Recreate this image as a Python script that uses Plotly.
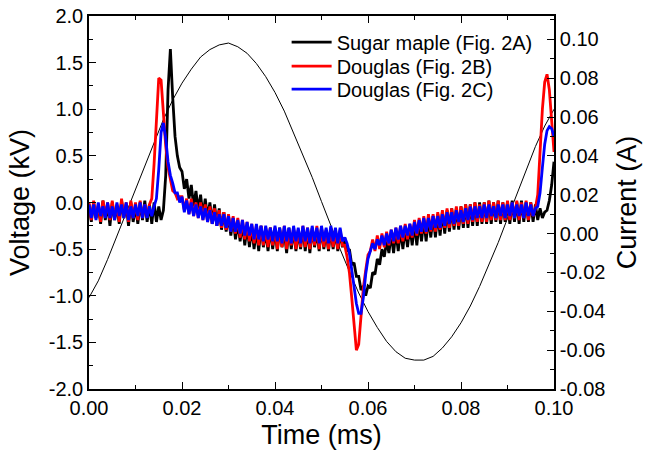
import numpy as np
import plotly.graph_objects as go

# time grids (ms)
t_cur = np.round(np.arange(201) * 0.0005, 4)
t_volt = np.round(np.arange(51) * 0.002, 3)

# applied voltage (kV), read every 0.002 ms
voltage_kv = [-1.02, -0.84, -0.61, -0.36, -0.10, 0.15, 0.41, 0.66, 0.89, 1.10,
              1.28, 1.43, 1.56, 1.64, 1.69, 1.71, 1.67, 1.60, 1.49, 1.35,
              1.18, 0.98, 0.75, 0.52, 0.27, 0.01, -0.25, -0.50, -0.74, -0.97,
              -1.17, -1.34, -1.49, -1.60, -1.67, -1.69, -1.69, -1.65, -1.56, -1.44,
              -1.29, -1.11, -0.90, -0.67, -0.43, -0.17, 0.09, 0.35, 0.60, 0.82,
              1.00]

# currents (A), read every 0.0005 ms
sugar_maple_2a = [
    0.015, 0.006, 0.016, 0.008, 0.014, 0.005, 0.017, 0.007, 0.015, 0.004,
    0.016, 0.007, 0.014, 0.005, 0.017, 0.008, 0.015, 0.004, 0.016, 0.006,
    0.014, 0.005, 0.016, 0.007, 0.017, 0.006, 0.015, 0.005, 0.016, 0.006,
    0.014, 0.007, 0.012, 0.030, 0.074, 0.095, 0.070, 0.050, 0.040, 0.034,
    0.032, 0.023, 0.028, 0.018, 0.025, 0.014, 0.022, 0.012, 0.020, 0.009,
    0.018, 0.008, 0.016, 0.005, 0.015, 0.004, 0.013, 0.002, 0.011, 0.001,
    0.009, -0.001, 0.008, -0.003, 0.006, -0.004, 0.005, -0.006, 0.004, -0.007,
    0.003, -0.008, 0.002, -0.009, 0.004, -0.007, 0.001, -0.009, 0.003, -0.008,
    0.002, -0.009, 0.003, -0.007, 0.001, -0.010, 0.003, -0.008, 0.002, -0.009,
    0.001, -0.008, 0.003, -0.009, 0.002, -0.010, 0.003, -0.007, 0.001, -0.009,
    0.003, -0.008, 0.001, -0.009, 0.002, -0.008, 0.001, -0.009, 0.001, -0.007,
    -0.002, -0.009, -0.008, -0.016, -0.015, -0.022, -0.022, -0.029, -0.027, -0.032,
    -0.027, -0.028, -0.020, -0.021, -0.013, -0.016, -0.008, -0.012, -0.004, -0.010,
    0.000, -0.010, 0.001, -0.009, 0.002, -0.008, 0.003, -0.007, 0.004, -0.006,
    0.005, -0.006, 0.006, -0.004, 0.007, -0.004, 0.008, -0.002, 0.009, -0.002,
    0.010, -0.001, 0.011, 0.000, 0.012, 0.001, 0.013, 0.002, 0.013, 0.002,
    0.014, 0.003, 0.015, 0.003, 0.015, 0.004, 0.016, 0.004, 0.016, 0.005,
    0.016, 0.005, 0.017, 0.005, 0.016, 0.006, 0.017, 0.005, 0.016, 0.006,
    0.016, 0.005, 0.017, 0.006, 0.016, 0.005, 0.017, 0.006, 0.016, 0.006,
    0.016, 0.006, 0.015, 0.007, 0.013, 0.008, 0.011, 0.012, 0.017, 0.025,
    0.037]

douglas_2b = [
    0.016, 0.007, 0.017, 0.008, 0.015, 0.006, 0.017, 0.009, 0.016, 0.007,
    0.017, 0.008, 0.015, 0.006, 0.018, 0.009, 0.016, 0.006, 0.017, 0.008,
    0.016, 0.007, 0.017, 0.008, 0.015, 0.009, 0.015, 0.018, 0.036, 0.058,
    0.080, 0.079, 0.062, 0.045, 0.034, 0.028, 0.022, 0.021, 0.018, 0.019,
    0.019, 0.012, 0.018, 0.010, 0.018, 0.009, 0.016, 0.008, 0.016, 0.007,
    0.015, 0.006, 0.014, 0.005, 0.013, 0.004, 0.012, 0.003, 0.011, 0.002,
    0.010, 0.001, 0.009, 0.000, 0.008, -0.002, 0.007, -0.003, 0.006, -0.004,
    0.005, -0.005, 0.004, -0.006, 0.004, -0.006, 0.003, -0.007, 0.003, -0.006,
    0.003, -0.008, 0.002, -0.007, 0.004, -0.008, 0.002, -0.006, 0.003, -0.008,
    0.002, -0.007, 0.004, -0.007, 0.003, -0.008, 0.002, -0.006, 0.004, -0.008,
    0.003, -0.007, 0.002, -0.008, 0.003, -0.007, 0.002, -0.008, 0.002, -0.006,
    -0.006, -0.012, -0.020, -0.033, -0.048, -0.060, -0.057, -0.042, -0.028, -0.019,
    -0.011, -0.009, -0.003, -0.009, -0.001, -0.008, 0.000, -0.007, 0.001, -0.006,
    0.002, -0.005, 0.003, -0.005, 0.004, -0.004, 0.005, -0.003, 0.005, -0.002,
    0.007, -0.001, 0.008, 0.000, 0.009, 0.000, 0.010, 0.001, 0.010, 0.001,
    0.011, 0.002, 0.012, 0.003, 0.013, 0.003, 0.013, 0.004, 0.014, 0.004,
    0.014, 0.005, 0.015, 0.005, 0.015, 0.006, 0.016, 0.006, 0.015, 0.006,
    0.016, 0.006, 0.017, 0.007, 0.016, 0.007, 0.017, 0.007, 0.016, 0.007,
    0.017, 0.007, 0.016, 0.008, 0.017, 0.007, 0.016, 0.008, 0.017, 0.007,
    0.016, 0.009, 0.013, 0.020, 0.042, 0.064, 0.078, 0.082, 0.074, 0.058,
    0.042]

douglas_2c = [
    0.015, 0.008, 0.015, 0.007, 0.016, 0.009, 0.014, 0.008, 0.016, 0.008,
    0.014, 0.007, 0.016, 0.009, 0.015, 0.008, 0.016, 0.007, 0.014, 0.008,
    0.015, 0.009, 0.016, 0.008, 0.015, 0.008, 0.014, 0.009, 0.014, 0.018,
    0.033, 0.052, 0.057, 0.049, 0.037, 0.030, 0.026, 0.021, 0.021, 0.016,
    0.019, 0.011, 0.017, 0.010, 0.016, 0.009, 0.015, 0.008, 0.014, 0.007,
    0.013, 0.006, 0.012, 0.005, 0.011, 0.004, 0.010, 0.004, 0.010, 0.003,
    0.009, 0.001, 0.008, 0.001, 0.007, 0.000, 0.007, -0.001, 0.006, -0.001,
    0.005, -0.003, 0.005, -0.003, 0.004, -0.004, 0.004, -0.003, 0.003, -0.004,
    0.004, -0.004, 0.003, -0.005, 0.004, -0.004, 0.003, -0.005, 0.004, -0.004,
    0.003, -0.005, 0.004, -0.004, 0.003, -0.005, 0.004, -0.004, 0.003, -0.005,
    0.004, -0.004, 0.003, -0.005, 0.004, -0.004, 0.003, -0.005, 0.003, -0.004,
    -0.002, -0.005, -0.010, -0.018, -0.027, -0.036, -0.041, -0.041, -0.033, -0.021,
    -0.013, -0.009, -0.005, -0.008, -0.003, -0.006, -0.001, -0.006, 0.000, -0.005,
    0.002, -0.004, 0.003, -0.003, 0.004, -0.002, 0.004, -0.001, 0.005, -0.001,
    0.006, 0.000, 0.007, 0.001, 0.008, 0.001, 0.008, 0.002, 0.009, 0.003,
    0.009, 0.003, 0.010, 0.004, 0.011, 0.005, 0.011, 0.005, 0.012, 0.006,
    0.012, 0.006, 0.013, 0.007, 0.014, 0.007, 0.014, 0.008, 0.014, 0.008,
    0.015, 0.008, 0.015, 0.009, 0.014, 0.008, 0.015, 0.009, 0.015, 0.008,
    0.015, 0.009, 0.016, 0.008, 0.015, 0.009, 0.015, 0.008, 0.016, 0.009,
    0.015, 0.009, 0.013, 0.014, 0.021, 0.034, 0.046, 0.053, 0.055, 0.054,
    0.050]

series_names = ["Sugar maple (Fig. 2A)", "Douglas (Fig. 2B)", "Douglas (Fig. 2C)"]
series_values = [sugar_maple_2a, douglas_2b, douglas_2c]
series_colors = ["#000000", "#ff0000", "#0000ff"]

x_ticks = [0.00, 0.02, 0.04, 0.06, 0.08, 0.10]
x_labels = ["0.00", "0.02", "0.04", "0.06", "0.08", "0.10"]
v_ticks = [-2.0, -1.5, -1.0, -0.5, 0.0, 0.5, 1.0, 1.5, 2.0]
v_labels = ["-2.0", "-1.5", "-1.0", "-0.5", "0.0", "0.5", "1.0", "1.5", "2.0"]
i_ticks = [-0.08, -0.06, -0.04, -0.02, 0.00, 0.02, 0.04, 0.06, 0.08, 0.10]
i_labels = ["-0.08", "-0.06", "-0.04", "-0.02", "0.00", "0.02", "0.04", "0.06", "0.08", "0.10"]

FONT = "Arial, Liberation Sans, sans-serif"

fig = go.Figure()
fig.add_trace(go.Scatter(x=t_volt, y=voltage_kv, mode="lines",
                         line=dict(color="#000000", width=1), showlegend=False,
                         yaxis="y"))
legend_ids = ["legend", "legend2", "legend3"]
for name, vals, col, lg in zip(series_names, series_values, series_colors, legend_ids):
    fig.add_trace(go.Scatter(x=t_cur, y=vals, mode="lines", name=name,
                             line=dict(color=col, width=2.8), yaxis="y2", legend=lg))

axis_common = dict(showline=True, linecolor="black", linewidth=1.6,
                   showgrid=False, zeroline=False, ticks="inside",
                   tickcolor="black", tickwidth=1.3, ticklen=7, automargin=False,
                   ticklabeloverflow="allow",
                   tickfont=dict(family=FONT, size=20, color="black"))

legend_style = dict(x=0.425, xanchor="left", yanchor="top",
                    bgcolor="rgba(0,0,0,0)", font=dict(family=FONT, size=20),
                    itemwidth=40)

fig.update_layout(
    width=647, height=453,
    margin=dict(l=89, r=93, t=16, b=64),
    paper_bgcolor="white", plot_bgcolor="white",
    font=dict(family=FONT, color="black"),
    xaxis=dict(range=[0, 0.1], tickvals=x_ticks, ticktext=x_labels, mirror="ticks",
               minor=dict(ticks="inside", ticklen=4, dtick=0.01, tick0=0,
                          tickcolor="black", tickwidth=1.3),
               title=dict(text="Time (ms)", font=dict(family=FONT, size=27), standoff=7),
               **axis_common),
    yaxis=dict(range=[-2, 2], tickvals=v_ticks, ticktext=v_labels,
               minor=dict(ticks="inside", ticklen=4, dtick=0.25, tick0=0,
                          tickcolor="black", tickwidth=1.3),
               title=dict(text="Voltage (kV)", font=dict(family=FONT, size=27), standoff=11),
               **axis_common),
    yaxis2=dict(range=[-0.08, 0.112], tickvals=i_ticks, ticktext=i_labels,
                overlaying="y", side="right", anchor="x",
                minor=dict(ticks="inside", ticklen=4, dtick=0.01, tick0=0,
                           tickcolor="black", tickwidth=1.3),
                title=dict(text="Current (A)", font=dict(family=FONT, size=27), standoff=13),
                **axis_common),
    legend=dict(y=0.982, **legend_style),
    legend2=dict(y=0.918, **legend_style),
    legend3=dict(y=0.856, **legend_style),
)

fig.write_html("out.html", config={"displayModeBar": False},
               post_script="document.body.style.margin='0';document.body.style.overflow='hidden';")
